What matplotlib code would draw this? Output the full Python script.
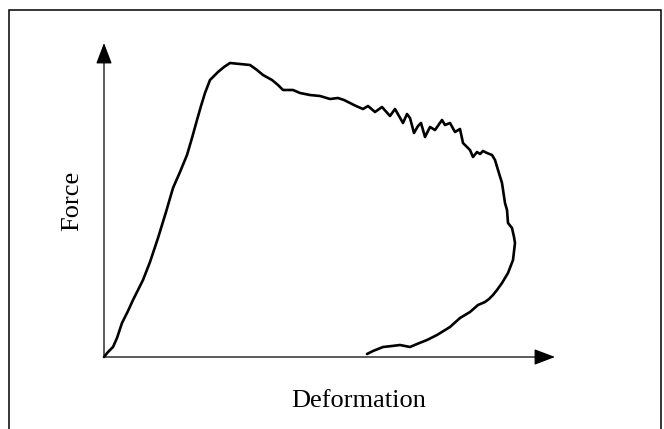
import matplotlib
matplotlib.use("Agg")
import matplotlib.pyplot as plt
from matplotlib.patches import Rectangle

# Curve (arbitrary units: deformation, force)
deformation = [0, 4, 9, 13, 18, 24, 29, 34, 39, 46,
               54, 62, 69, 76, 83, 88, 93, 97, 101, 106,
               114, 120, 126, 136, 146, 153, 159, 168, 174, 179,
               189, 196, 206, 216, 226, 234, 240, 246, 252, 259,
               264, 271, 278, 286, 291, 299, 303, 306, 310, 314,
               317, 321, 326, 331, 338, 341, 346, 351, 356, 359,
               363, 366, 369, 373, 376, 379, 383, 388, 391, 394,
               398, 401, 403, 404, 408, 410, 411, 409, 404, 398,
               393, 389, 385, 381, 374, 366, 356, 346, 333, 323,
               313, 306, 301, 296, 288, 279, 269, 263]
force = [0, 5, 10, 19, 34, 46, 57, 67, 77, 95,
         119, 145, 169, 185, 202, 219, 237, 251, 264, 277,
         285, 290, 294, 293, 292, 287, 282, 277, 272, 267,
         267, 264, 262, 261, 258, 259, 257, 254, 251, 248,
         251, 245, 250, 241, 248, 234, 243, 239, 224, 231,
         234, 220, 230, 227, 237, 232, 234, 225, 228, 214,
         210, 207, 200, 205, 203, 206, 204, 202, 197, 187,
         174, 154, 147, 134, 129, 120, 114, 97, 84, 74,
         67, 62, 58, 55, 52, 45, 39, 30, 22, 17,
         13, 10, 11, 12, 11, 10, 6, 3]

x_label = "Deformation"
y_label = "Force"
x_max = 451
y_max = 314

W, H = 664, 429
fig = plt.figure(figsize=(W / 100, H / 100), dpi=100)
fig.patch.set_facecolor("white")

# outer border (bottom edge lies outside the image)
fig.patches.append(Rectangle((9 / W, -0.05), (661 - 9) / W, 1.05 - 10 / H,
                             transform=fig.transFigure, fill=False,
                             edgecolor="black", linewidth=1.1))

ax = fig.add_axes([104 / W, 1 - 357 / H, 451 / W, 314 / H])
ax.set_xlim(0, x_max)
ax.set_ylim(0, y_max)
ax.axis("off")

ax.plot(deformation, force, color="black", linewidth=1.9, solid_joinstyle="round",
        solid_capstyle="round", clip_on=False)

arrow = dict(arrowstyle="-|>,head_length=1.0,head_width=0.38", mutation_scale=13,
             color="black", linewidth=0.9, shrinkA=0, shrinkB=0)
ax.annotate("", xy=(x_max, 0), xytext=(0, 0), arrowprops=arrow, annotation_clip=False)
ax.annotate("", xy=(0, y_max), xytext=(0, 0), arrowprops=arrow, annotation_clip=False)

font = ["Liberation Serif", "DejaVu Serif"]
fig.text(359 / W, 1 - 407 / H, x_label, ha="center", va="baseline",
         fontsize=19, family=font)
fig.text(72 / W, 1 - 201 / H, y_label, ha="center", va="center", rotation=90,
         fontsize=19, family=font)

fig.savefig("out.png", dpi=100, facecolor="white")
